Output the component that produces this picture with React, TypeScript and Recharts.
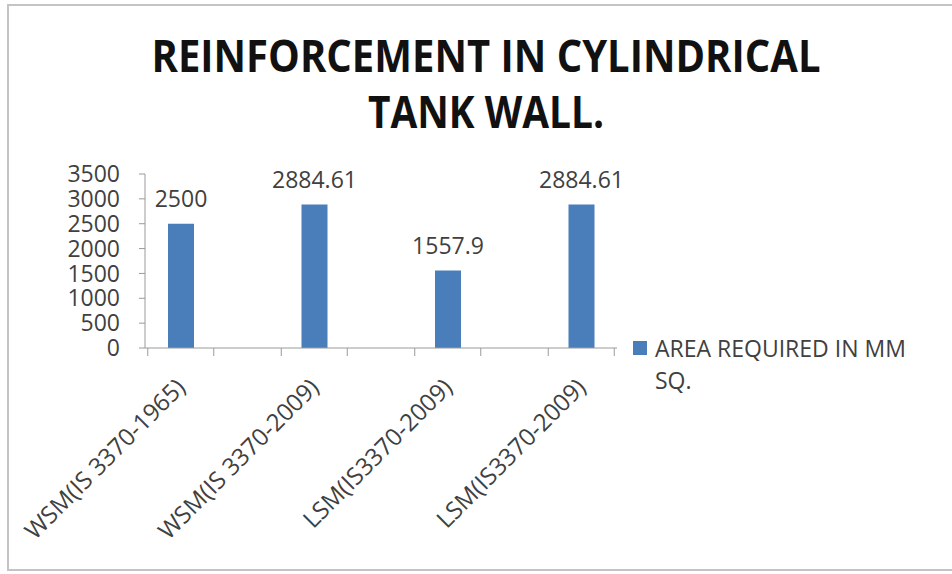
import { BarChart, Bar, XAxis, YAxis, LabelList, Legend } from "recharts";

const titleLines = ["REINFORCEMENT IN CYLINDRICAL", "TANK WALL."];
const categories = [
  "WSM(IS 3370-1965)",
  "WSM(IS 3370-2009)",
  "LSM(IS3370-2009)",
  "LSM(IS3370-2009)",
];
const areaRequired = [2500, 2884.61, 1557.9, 2884.61];
const yTicks = [0, 500, 1000, 1500, 2000, 2500, 3000, 3500];
const seriesName = "AREA REQUIRED IN MM SQ.";

const data = categories.map((label, i) => ({ id: i, label, area: areaRequired[i] }));

const FONT = '"Open Sans", sans-serif';
const TEXT = "#404040";
const AXIS = "#9a9a9a";
const BLUE = "#4a7ebb";

function CategoryTick(props: any) {
  const { x, y, payload } = props;
  const label = categories[payload.value];
  const tx = x + 6;
  const ty = y + 41;
  return (
    <g>
      <line x1={x - 33} y1={y} x2={x - 33} y2={y + 8} stroke={AXIS} />
      <line x1={x + 33} y1={y} x2={x + 33} y2={y + 8} stroke={AXIS} />
      <text
        x={tx}
        y={ty}
        transform={`rotate(-45, ${tx}, ${ty})`}
        textAnchor="end"
        fontSize={24}
        fill={TEXT}
        fontFamily={FONT}
      >
        {label}
      </text>
    </g>
  );
}

function LegendBox() {
  return (
    <div style={{ display: "flex", fontFamily: FONT, color: TEXT }}>
      <div style={{ width: 14, height: 14, background: BLUE, marginTop: 9, marginRight: 8, flex: "none" }} />
      <div style={{ width: 265, fontSize: 23, lineHeight: "32px" }}>{seriesName}</div>
    </div>
  );
}

export default function App() {
  return (
    <div
      style={{
        position: "absolute",
        left: 0,
        top: 0,
        width: 952,
        height: 574,
        overflow: "hidden",
        background: "#fff",
      }}
    >
      <div
        style={{
          position: "absolute",
          left: 7,
          top: 4,
          width: 960,
          height: 567,
          boxSizing: "border-box",
          border: "2px solid #c4c4c4",
        }}
      />
      <svg width={952} height={150} style={{ position: "absolute", left: 0, top: 0 }}>
        <text
          x={486}
          y={72}
          textAnchor="middle"
          fontFamily={FONT}
          fontWeight="bold"
          fontSize={44}
          fill="#111"
          textLength={669}
          lengthAdjust="spacingAndGlyphs"
        >
          {titleLines[0]}
        </text>
        <text
          x={486}
          y={128}
          textAnchor="middle"
          fontFamily={FONT}
          fontWeight="bold"
          fontSize={44}
          fill="#111"
          textLength={236}
          lengthAdjust="spacingAndGlyphs"
        >
          {titleLines[1]}
        </text>
      </svg>
      <div style={{ position: "absolute", left: 0, top: 0 }}>
        <BarChart
          width={952}
          height={574}
          data={data}
          margin={{ top: 174, right: 335, bottom: 0, left: 0 }}
        >
          <XAxis
            dataKey="id"
            type="category"
            height={226}
            padding={{ left: -31, right: -31 }}
            axisLine={{ stroke: AXIS }}
            tickLine={false}
            tickSize={0}
            tickMargin={0}
            interval={0}
            tick={<CategoryTick />}
          />
          <YAxis
            width={145}
            domain={[0, 3500]}
            ticks={yTicks}
            interval={0}
            tickSize={6}
            tickMargin={19}
            axisLine={{ stroke: AXIS }}
            tickLine={{ stroke: AXIS }}
            tick={{ fontSize: 23, fill: TEXT, fontFamily: FONT }}
          />
          <Legend
            layout="horizontal"
            align="center"
            verticalAlign="middle"
            wrapperStyle={{ left: 633, top: 332, width: 300 }}
            content={() => <LegendBox />}
          />
          <Bar dataKey="area" name={seriesName} fill={BLUE} barSize={26} isAnimationActive={false}>
            <LabelList
              dataKey="area"
              position="top"
              offset={17}
              fontSize={23}
              fill={TEXT}
              fontFamily={FONT}
            />
          </Bar>
        </BarChart>
      </div>
    </div>
  );
}
